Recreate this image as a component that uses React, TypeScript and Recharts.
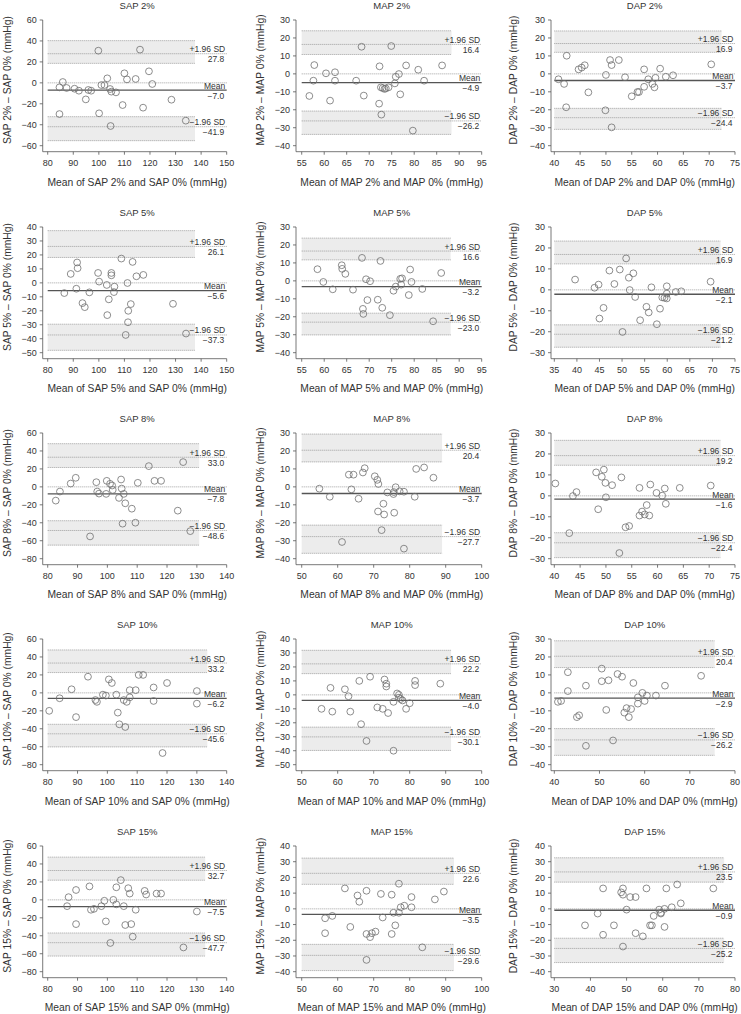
import React from 'react'
import { ScatterChart, Scatter, XAxis, YAxis, ReferenceLine, ReferenceArea } from 'recharts'

const levels = ['2%', '5%', '8%', '10%', '15%']
const measures = ['SAP', 'MAP', 'DAP']

const xTicks: number[][][] = [
  [[80, 90, 100, 110, 120, 130, 140, 150], [55, 60, 65, 70, 75, 80, 85, 90, 95], [40, 45, 50, 55, 60, 65, 70, 75]],
  [[80, 90, 100, 110, 120, 130, 140, 150], [55, 60, 65, 70, 75, 80, 85, 90, 95], [35, 40, 45, 50, 55, 60, 65, 70, 75]],
  [[80, 90, 100, 110, 120, 130, 140], [50, 60, 70, 80, 90, 100], [40, 45, 50, 55, 60, 65, 70, 75]],
  [[80, 90, 100, 110, 120, 130, 140], [50, 60, 70, 80, 90, 100], [40, 50, 60, 70, 80]],
  [[80, 90, 100, 110, 120, 130, 140], [50, 60, 70, 80, 90, 100], [30, 40, 50, 60, 70, 80]],
]

const yTicks: number[][][] = [
  [[-60, -40, -20, 0, 20, 40, 60], [-40, -30, -20, -10, 0, 10, 20, 30], [-40, -30, -20, -10, 0, 10, 20, 30]],
  [[-50, -40, -30, -20, -10, 0, 10, 20, 30, 40], [-40, -30, -20, -10, 0, 10, 20, 30], [-30, -20, -10, 0, 10, 20, 30]],
  [[-80, -60, -40, -20, 0, 20, 40, 60], [-40, -30, -20, -10, 0, 10, 20, 30], [-30, -20, -10, 0, 10, 20, 30]],
  [[-80, -60, -40, -20, 0, 20, 40, 60], [-50, -40, -30, -20, -10, 0, 10, 20, 30, 40], [-40, -30, -20, -10, 0, 10, 20, 30]],
  [[-80, -60, -40, -20, 0, 20, 40, 60], [-40, -30, -20, -10, 0, 10, 20, 30, 40], [-40, -30, -20, -10, 0, 10, 20, 30, 40]],
]

const meanDiff = [[-7.0, -4.9, -3.7], [-5.6, -3.2, -2.1], [-7.8, -3.7, -1.6], [-6.2, -4.0, -2.9], [-7.5, -3.5, -0.9]]
const upperLoA = [[27.8, 16.4, 16.9], [26.1, 16.6, 16.9], [33.0, 20.4, 19.2], [33.2, 22.2, 20.4], [32.7, 22.6, 23.5]]
const lowerLoA = [[-41.9, -26.2, -24.4], [-37.3, -23.0, -21.2], [-48.6, -27.7, -22.4], [-45.6, -30.1, -26.2], [-47.7, -29.6, -25.2]]

// confidence bands of the limits [low, high]
const upperBand = [
  [[18.6, 40.3], [10.8, 24.0], [12.0, 23.9]],
  [[18.2, 37.4], [11.7, 23.8], [12.4, 23.3]],
  [[21.6, 48.1], [13.9, 29.4], [14.6, 26.5]],
  [[22.6, 47.8], [15.2, 31.9], [14.1, 29.0]],
  [[21.9, 47.6], [15.6, 32.3], [17.0, 32.5]],
]
const lowerBand = [
  [[-55.2, -32.3], [-33.7, -20.7], [-30.9, -19.2]],
  [[-48.3, -29.6], [-30.1, -18.0], [-27.4, -16.7]],
  [[-64.9, -37.7], [-37.0, -21.3], [-29.5, -17.6]],
  [[-60.2, -35.0], [-39.8, -23.1], [-34.8, -19.9]],
  [[-62.6, -36.9], [-39.3, -22.6], [-34.2, -18.7]],
]
const bandEnd = [[137.6, 88.3, 72.4], [137.6, 88.1, 71.8], [130.8, 89.0, 72.2], [133.5, 91.5, 75.5], [132.8, 92.3, 77.0]]

const sap2 = [[84.6, -29.8], [84.6, -4.3], [85.9, 0.8], [87.4, -4.9], [90.5, -5.6], [92.2, -7.5], [94.9, -15.8], [95.9, -6.8], [97.0, -7.5], [99.8, 30.7], [100.1, -29.1], [101.0, -2.1], [102.2, -2.1], [103.3, 4.3], [104.4, -5.9], [104.6, -41.2], [104.9, -8.4], [106.7, -9.1], [109.3, -21.2], [110.0, 9.1], [111.0, 3.3], [114.4, 3.7], [116.1, 31.7], [117.3, -23.7], [119.6, 11.0], [120.9, -1.1], [128.4, -16.1], [134.0, -36.1]]
const map2 = [[56.7, -12.3], [57.6, -3.8], [57.8, 4.9], [60.4, 0.3], [61.3, -14.9], [62.4, 0.9], [62.4, -3.8], [67.1, -3.8], [68.3, 15.1], [68.8, -12.1], [72.2, -16.6], [72.3, 4.2], [72.6, -7.5], [72.7, -22.7], [73.0, -7.9], [73.4, -8.4], [73.7, -8.1], [74.3, -7.5], [74.9, 15.5], [75.7, -5.3], [75.9, -1.6], [76.6, -0.1], [76.9, -11.4], [78.2, 4.7], [79.7, -31.6], [80.9, 2.3], [82.2, -3.8], [86.2, 4.7]]
const dap2 = [[40.8, -3.0], [41.9, -5.6], [42.3, -18.6], [42.4, 10.1], [44.7, 2.5], [45.3, 3.5], [45.9, 4.8], [46.6, -10.3], [49.9, -20.3], [50.0, -0.6], [50.8, 7.7], [51.1, 4.9], [51.1, -29.8], [52.5, 7.7], [53.7, -1.9], [55.0, -12.5], [56.1, -10.1], [56.4, -10.1], [57.4, -7.2], [57.4, 2.5], [58.2, -3.0], [59.0, -5.6], [59.4, -7.5], [59.6, -2.2], [60.5, 2.9], [61.6, -1.6], [63.0, -0.8], [70.4, 5.3]]

const sap5 = [[86.5, -7.3], [89.0, 6.4], [91.5, 14.6], [91.7, 10.5], [91.2, -4.2], [93.6, -14.5], [94.5, -17.4], [96.3, -6.8], [99.7, 7.1], [100.1, 0.9], [103.1, -1.5], [103.9, -11.8], [103.3, -23.1], [104.9, 7.1], [104.9, 5.4], [105.9, -6.6], [106.1, -2.7], [108.8, 17.4], [110.5, -37.3], [111.2, -0.1], [111.5, -20.0], [111.4, -28.2], [112.5, -15.2], [113.2, 15.0], [114.7, 4.7], [117.4, 5.7], [129.0, -15.0], [134.1, -36.3]]
const map5 = [[58.5, 6.5], [59.8, -0.6], [61.9, -4.7], [63.9, 8.7], [64.0, 6.7], [64.7, 3.9], [66.4, -4.9], [68.4, 12.8], [68.6, -15.6], [68.7, -18.4], [69.3, 0.9], [69.6, -10.7], [70.2, -0.2], [71.9, -10.5], [72.5, 11.1], [72.9, -15.0], [74.6, -19.1], [75.4, -5.5], [75.9, -3.2], [76.9, 1.1], [77.1, -2.1], [77.3, 1.4], [78.8, -7.9], [79.1, 6.3], [79.4, -0.6], [81.8, -4.5], [84.2, -22.5], [86.0, 4.4]]
const dap5 = [[39.6, 4.9], [43.9, 1.0], [44.8, 2.5], [45.0, -13.7], [45.9, -8.6], [47.2, 9.2], [48.3, 2.8], [49.5, 9.7], [50.1, -20.1], [50.9, 15.0], [51.5, 5.8], [51.7, -0.1], [52.5, 7.9], [52.9, -3.4], [54.0, -14.5], [55.4, -8.1], [55.9, -10.8], [56.5, 1.2], [57.7, -16.4], [58.4, -9.0], [58.9, -3.6], [59.4, -3.8], [59.9, 1.7], [59.9, -1.8], [59.9, -4.1], [61.9, -1.0], [63.1, -0.7], [69.6, 3.9]]

const sap8 = [[82.7, -15.3], [84.1, -5.2], [87.7, 3.7], [89.4, 10.1], [94.2, -55.2], [96.3, 5.2], [96.6, -5.2], [97.2, -7.5], [99.6, -7.8], [99.8, 6.7], [100.9, 3.4], [101.6, 1.5], [101.8, -3.4], [103.9, -12.3], [104.6, 8.2], [104.8, -1.9], [105.1, -41.0], [105.5, -7.8], [106.0, -18.3], [108.2, -24.3], [109.4, -39.9], [110.2, 4.5], [113.9, 23.1], [115.8, 6.7], [118.0, 6.7], [123.6, -26.5], [125.4, 27.6], [127.8, -49.3]]
const map8 = [[54.9, -1.0], [57.8, -5.5], [61.2, -30.7], [63.1, 6.8], [63.8, -1.4], [64.4, 6.8], [65.8, -6.6], [67.0, 8.0], [67.5, 10.4], [70.3, 5.9], [71.0, 3.9], [71.3, 1.6], [71.2, -13.7], [72.2, -24.1], [72.7, -9.4], [72.9, -15.4], [73.8, -3.1], [75.5, -4.0], [75.6, -2.9], [75.7, -14.4], [76.1, -0.2], [77.2, -2.5], [78.4, -2.7], [78.4, -34.4], [81.4, -5.5], [81.8, 10.0], [84.0, 10.8], [86.6, 5.1]]
const dap8 = [[40.2, 5.9], [42.9, -17.8], [43.6, -0.1], [44.3, 1.8], [48.1, 11.2], [48.5, -6.4], [49.2, 9.1], [49.6, 12.5], [49.9, 6.2], [50.0, -0.7], [51.2, 5.1], [52.6, -27.3], [53.0, 8.8], [53.8, -15.0], [54.5, -14.4], [56.5, 3.8], [56.5, -9.4], [57.0, -7.5], [57.5, -8.9], [57.9, -4.4], [58.4, -9.4], [58.6, 5.4], [59.8, 1.4], [60.9, 0.1], [61.4, 3.5], [61.6, -3.8], [64.3, 3.8], [70.3, 4.9]]

const sap10 = [[80.5, -20], [84, -6], [88, 4], [89.5, -27], [93.5, 18], [96, -8], [96.5, -10], [98.5, -2], [99.5, -3], [100.5, 15], [101.5, 11], [103, -2], [103.5, -22], [104, -35], [105.5, -8], [106, -38], [106.5, -10], [107.5, 3], [107.5, -5], [109.5, 3], [110.5, 20], [112, 20], [115.5, 6], [115.5, -9], [118.5, -67], [120, 11], [130, 2], [130, -12]]
const map10 = [[55.5, -10], [58, 5], [58.5, -12], [62, 4], [63, -1], [63.5, -12], [66, 10], [66.5, -21], [68, -33], [69, 13], [71, -9], [72.5, -10], [73, 11], [73.5, 6], [73.5, 8], [74, -13], [75.5, -40], [75.5, -5], [76.5, 1], [77, -2], [77, 0], [77.5, -3], [78, -4], [79, -10], [80, -6], [81.5, 10], [81.5, 7], [88.5, 8]]
const dap10 = [[40.8, -5], [41.5, -4.5], [43, 11.5], [43, 1], [45, -13.5], [45.5, -12.5], [47, 4], [47, -29.5], [50.5, 6.5], [50.5, 13.5], [51.5, -9.5], [52, 7], [53, -26.5], [54, 10.5], [55, 9], [55.5, -11], [56, -8.5], [56.5, -13.5], [57, -9], [57.5, 5.5], [58.5, -6], [58.5, -2.5], [59.5, 0], [60, -4.5], [60.5, -1.5], [62.5, -1.5], [64.5, 4], [72.5, 9.5]]

const sap15 = [[86.5, -7], [87, 3], [89.5, 11], [89.5, -27], [94, 15], [94.5, -11], [95.5, -10], [98, -7], [99, -1], [99.5, -24], [101, -48], [102, 0], [103, -5], [103, 14], [104.5, 22], [105.5, -7], [106, -28], [107, 13], [107.5, 7], [108, -27], [108.5, -41], [109.5, -11], [112.5, 10], [113, 6], [116.5, 7], [118, 7], [125.5, -53], [130, -13]]
const map15 = [[56.5, -6], [56.5, -15.5], [58.5, -4.5], [62, 13], [63.5, -11.5], [65.5, 8.5], [66, 4.5], [68, 11.5], [68, -16], [68, -32.5], [69, -18], [69.5, -15.5], [70.5, -14.5], [72, 9.5], [72.5, -5.5], [75, 9], [75, -16], [75.5, -2.5], [76, -10.5], [77, -2.5], [77, 16], [77.5, 1], [78.5, 2], [80.5, 7.5], [80.5, 1], [83.5, -24.5], [87, 6], [89.5, 11]]
const dap15 = [[38.5, -10.5], [42, -3], [43.5, -16.5], [43.5, 13], [46.5, -10.5], [48.5, 10.5], [49, 13], [49, 9], [49, -24], [50, -0.5], [51, 7.5], [52.5, 7.5], [52.5, -15.5], [54.5, -17.5], [55.5, 13], [56.5, -10.5], [57, -10.5], [57.5, -4.5], [59, -0.5], [59.5, -3], [59.5, -2.5], [60.5, -11.5], [60.5, 0], [61, 13], [62.5, 1], [64, 15.5], [65, 3.5], [74, 13]]

const points = [
  [sap2, map2, dap2],
  [sap5, map5, dap5],
  [sap8, map8, dap8],
  [sap10, map10, dap10],
  [sap15, map15, dap15],
]

// layout
const rowPlotTop = [20, 226.7, 432.7, 639, 845.5]
const cols = [
  { left: 0, yw: 42.7, right: 20.3, padL: 5, center: 137.2, yTitleX: 6.7 },
  { left: 247, yw: 49, right: 12.3, padL: 5.7, center: 391.7, yTitleX: 260 },
  { left: 494, yw: 57, right: 6, padL: 3.3, center: 644.7, yTitleX: 513.3 },
]

const FONT = "'Liberation Sans', Arial, sans-serif"
const TEXT = '#333'
const AXIS = '#555'
const DOT = '#8a8a8a'

const fmt = (v: number) => (v < 0 ? '\u2212' + Math.abs(v).toFixed(1) : v.toFixed(1))
const tickFmt = (v: number) => (v < 0 ? '\u2212' + Math.abs(v) : String(v))

const Ring = (p: any) => (
  <circle cx={p.cx} cy={p.cy} r={3.4} fill="none" stroke="#707070" strokeWidth={0.8} />
)

function Panel({ r, c }: { r: number; c: number }) {
  const col = cols[c]
  const top = rowPlotTop[r]
  const xt = xTicks[r][c]
  const yt = yTicks[r][c]
  const xMin = xt[0]
  const xMax = xt[xt.length - 1]
  const ub = upperBand[r][c]
  const lb = lowerBand[r][c]
  const bEnd = bandEnd[r][c]
  const data = points[r][c].map(([x, y]) => ({ x, y }))
  const lab = { fontSize: 8.5, fill: TEXT, fontFamily: FONT }
  const full = (y: number) => [{ x: xMin, y }, { x: xMax, y }]
  const part = (y: number) => [{ x: xMin, y }, { x: bEnd, y }]
  const name = measures[c] + ' ' + levels[r]

  return (
    <>
      <div style={{ position: 'absolute', left: col.center, top: top - 15, transform: 'translate(-50%, -50%)', fontSize: 9.5, color: TEXT, whiteSpace: 'nowrap', fontFamily: FONT }}>
        {name}
      </div>
      <div style={{ position: 'absolute', left: col.center, top: top + 161.5, transform: 'translate(-50%, -50%)', fontSize: 10.3, color: TEXT, whiteSpace: 'nowrap', fontFamily: FONT }}>
        {`Mean of ${name} and ${measures[c]} 0% (mmHg)`}
      </div>
      <div style={{ position: 'absolute', left: col.yTitleX, top: top + 60, transform: 'translate(-50%, -50%) rotate(-90deg)', fontSize: 10.3, color: TEXT, whiteSpace: 'nowrap', fontFamily: FONT }}>
        {`${name} \u2013 ${measures[c]} 0% (mmHg)`}
      </div>
      <div style={{ position: 'absolute', left: col.left, top: top - 10 }}>
        <ScatterChart width={247} height={161.7} margin={{ top: 10, right: col.right, bottom: 0, left: 0 }}>
          <XAxis
            type="number"
            dataKey="x"
            domain={[xMin, xMax]}
            ticks={xt}
            interval={0}
            padding={{ left: col.padL, right: 0 }}
            tickSize={3}
            tickMargin={5}
            height={20}
            axisLine={{ stroke: AXIS, strokeWidth: 0.8 }}
            tickLine={{ stroke: AXIS, strokeWidth: 0.8 }}
            tick={{ fontSize: 9, fill: TEXT, fontFamily: FONT }}
            tickFormatter={tickFmt}
          />
          <YAxis
            type="number"
            dataKey="y"
            domain={[yt[0], yt[yt.length - 1]]}
            ticks={yt}
            interval={0}
            padding={{ top: 0, bottom: 6 }}
            width={col.yw}
            tickSize={3}
            tickMargin={3}
            axisLine={{ stroke: AXIS, strokeWidth: 0.8 }}
            tickLine={{ stroke: AXIS, strokeWidth: 0.8 }}
            tick={{ fontSize: 9, fill: TEXT, fontFamily: FONT }}
            tickFormatter={tickFmt}
          />
          <ReferenceArea x1={xMin} x2={bEnd} y1={ub[0]} y2={ub[1]} fill="#ececec" fillOpacity={1} stroke="none" />
          <ReferenceArea x1={xMin} x2={bEnd} y1={lb[0]} y2={lb[1]} fill="#ececec" fillOpacity={1} stroke="none" />
          <ReferenceLine segment={part(ub[0])} stroke={DOT} strokeWidth={0.8} strokeDasharray="1 1" />
          <ReferenceLine segment={part(ub[1])} stroke={DOT} strokeWidth={0.8} strokeDasharray="1 1" />
          <ReferenceLine segment={part(lb[0])} stroke={DOT} strokeWidth={0.8} strokeDasharray="1 1" />
          <ReferenceLine segment={part(lb[1])} stroke={DOT} strokeWidth={0.8} strokeDasharray="1 1" />
          <ReferenceLine segment={full(0)} stroke={DOT} strokeWidth={0.8} strokeDasharray="1 1" />
          <ReferenceLine
            segment={full(upperLoA[r][c])}
            stroke={DOT}
            strokeWidth={0.8}
            strokeDasharray="1 1"
            label={{ value: '+1.96 SD', position: 'insideBottomRight', offset: 1.5, ...lab }}
          />
          <ReferenceLine
            segment={full(upperLoA[r][c])}
            stroke="none"
            label={{ value: fmt(upperLoA[r][c]), position: 'insideTopRight', offset: 2.5, ...lab }}
          />
          <ReferenceLine
            segment={full(lowerLoA[r][c])}
            stroke={DOT}
            strokeWidth={0.8}
            strokeDasharray="1 1"
            label={{ value: '\u22121.96 SD', position: 'insideBottomRight', offset: 1.5, ...lab }}
          />
          <ReferenceLine
            segment={full(lowerLoA[r][c])}
            stroke="none"
            label={{ value: fmt(lowerLoA[r][c]), position: 'insideTopRight', offset: 2.5, ...lab }}
          />
          <ReferenceLine
            segment={full(meanDiff[r][c])}
            stroke="#555"
            strokeWidth={1.3}
            label={{ value: 'Mean', position: 'insideBottomRight', offset: 1.5, ...lab }}
          />
          <ReferenceLine
            segment={full(meanDiff[r][c])}
            stroke="none"
            label={{ value: fmt(meanDiff[r][c]), position: 'insideTopRight', offset: 2.5, ...lab }}
          />
          <Scatter data={data} shape={Ring} isAnimationActive={false} />
        </ScatterChart>
      </div>
    </>
  )
}

export default function App() {
  return (
    <div style={{ position: 'absolute', left: 0, top: 0, width: 741, height: 1014, background: '#fff', overflow: 'hidden', fontFamily: FONT }}>
      {levels.map((_, r) => measures.map((__, c) => <Panel key={`${r}-${c}`} r={r} c={c} />))}
    </div>
  )
}
